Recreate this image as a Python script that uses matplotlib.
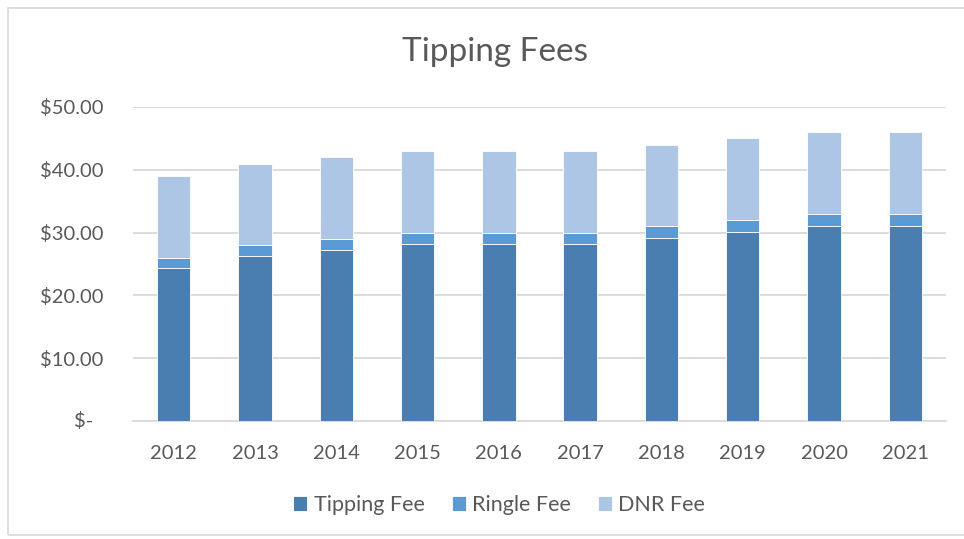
import matplotlib.pyplot as plt
import numpy as np
from matplotlib.patches import Rectangle
from matplotlib.ticker import FuncFormatter

years = ['2012', '2013', '2014', '2015', '2016', '2017', '2018', '2019', '2020', '2021']
tipping_fee = [24.4, 26.3, 27.3, 28.2, 28.2, 28.2, 29.2, 30.15, 31.1, 31.1]
ringle_fee = [1.6, 1.7, 1.7, 1.8, 1.8, 1.8, 1.8, 1.85, 1.9, 1.9]
dnr_fee = [13.0, 13.0, 13.0, 13.0, 13.0, 13.0, 13.0, 13.0, 13.0, 13.0]

plt.rcParams['font.family'] = ['Lato', 'DejaVu Sans']
text_color = '#595959'
grid_color = '#d9d9d9'

fig = plt.figure(figsize=(9.64, 5.39), dpi=100)
fig.patches.append(Rectangle((8 / 964, 4 / 539), 1.0, 1 - 12 / 539, transform=fig.transFigure,
                             fill=False, edgecolor=grid_color, linewidth=1.2))

ax = fig.add_axes([133 / 964, 1 - 421 / 539, (946 - 133) / 964, (421 - 107) / 539])

x = np.arange(len(years))
w = 0.41
tip = np.array(tipping_fee)
rin = np.array(ringle_fee)
dnr = np.array(dnr_fee)

ax.bar(x, tip, w, color='#4a7eb1', edgecolor='white', linewidth=0.6, label='Tipping Fee', zorder=3)
ax.bar(x, rin, w, bottom=tip, color='#5b9bd5', edgecolor='white', linewidth=0.6, label='Ringle Fee', zorder=3)
ax.bar(x, dnr, w, bottom=tip + rin, color='#aec6e6', edgecolor='white', linewidth=0.6, label='DNR Fee', zorder=3)

ax.set_xlim(-0.5, len(years) - 0.5)
ax.set_ylim(0, 50)
ax.set_yticks(np.arange(0, 51, 10))
# zero label is drawn separately (accounting style, dash sits further right)
ax.yaxis.set_major_formatter(FuncFormatter(lambda v, p: '' if v == 0 else '${:.2f}'.format(v)))
ax.set_xticks(x)
ax.set_xticklabels(years)

ax.grid(axis='y', color=grid_color, linewidth=1.3, zorder=0)
for s in ['top', 'right', 'left']:
    ax.spines[s].set_visible(False)
ax.spines['bottom'].set_color(grid_color)
ax.spines['bottom'].set_linewidth(1.3)
ax.tick_params(axis='both', length=0, labelsize=14.5, colors=text_color)
ax.tick_params(axis='x', pad=17)
ax.tick_params(axis='y', pad=21.5)
ax.annotate('$-', xy=(0, 0), xycoords=('axes fraction', 'data'), xytext=(-40, 0),
            textcoords='offset pixels', ha='right', va='center', fontsize=14.5, color=text_color)

fig.text(0.513, 1 - 52 / 539, 'Tipping Fees', ha='center', va='center', fontsize=24, color=text_color)

leg = fig.legend(loc='center', bbox_to_anchor=(0.518, 1 - 505 / 539), ncol=3, frameon=False,
                 fontsize=15.5, handlelength=0.65, handleheight=0.65, handletextpad=0.3, columnspacing=1.25)
for t in leg.get_texts():
    t.set_color(text_color)

fig.savefig('out.png', dpi=100)
